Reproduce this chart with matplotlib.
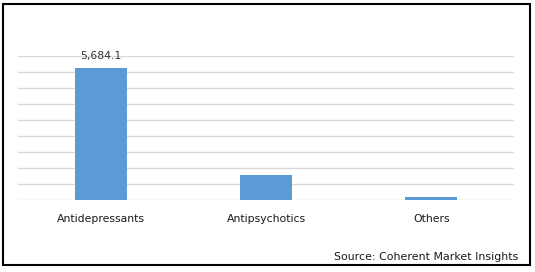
import numpy as np
import matplotlib
matplotlib.use('Agg')
import matplotlib.pyplot as plt
from matplotlib.patches import Rectangle

categories = ['Antidepressants', 'Antipsychotics', 'Others']
values = [5684.1, 1078.0, 130.0]
labels = ['5,684.1', '', '']

plt.rcParams['font.family'] = ['DejaVu Sans']

fig = plt.figure(figsize=(5.35, 2.72), dpi=100)
ax = fig.add_axes([18/535, 72/272, 496/535, 144/272])

x = np.arange(len(categories))
bars = ax.bar(x, values, width=0.315, color='#5b9bd5', zorder=3)

ax.set_xlim(-0.5, len(categories) - 0.5)
ax.set_ylim(0, 6210)
ax.set_yticks(np.arange(0, 6211, 690))
ax.yaxis.grid(True, color='#d9d9d9', linewidth=1)
ax.set_axisbelow(True)
ax.tick_params(axis='y', left=False, labelleft=False)
ax.tick_params(axis='x', length=0, pad=10, labelsize=7.8, colors='#1a1a1a')
ax.set_xticks(x)
ax.set_xticklabels(categories)
for s in ax.spines.values():
    s.set_visible(False)

for b, lab in zip(bars, labels):
    if lab:
        ax.annotate(lab, (b.get_x() + b.get_width() / 2, b.get_height()),
                    xytext=(0, 5), textcoords='offset points',
                    ha='center', va='bottom', fontsize=7.8, color='#333333')

fig.text(518/535, 1 - 257/272, 'Source: Coherent Market Insights',
         ha='right', va='center', fontsize=7.9, color='#1a1a1a')

fig.patches.append(Rectangle((3/535, 1 - 265/272), 527/535, 261/272,
                             transform=fig.transFigure, fill=False,
                             edgecolor='black', linewidth=1.5))

fig.savefig('out.png', dpi=100)
